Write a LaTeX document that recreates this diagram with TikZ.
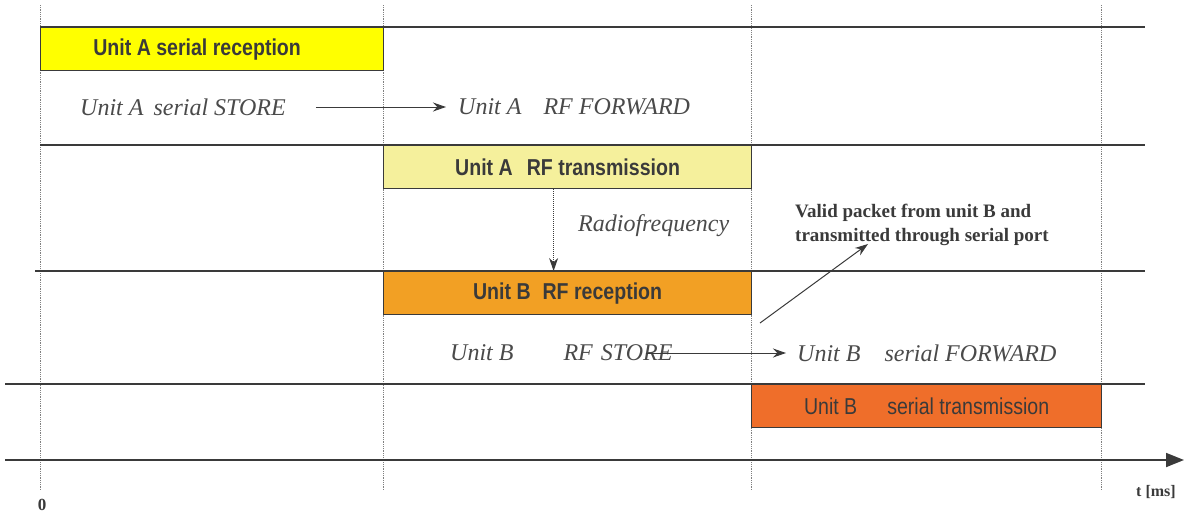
\documentclass[tikz,border=0pt]{standalone}
\usepackage{fontspec}
\setmainfont{Liberation Serif}
\newfontfamily\boxfont[FakeStretch=0.85]{Liberation Sans}
\usetikzlibrary{arrows.meta}
\definecolor{lineg}{HTML}{3A3A3A}
\definecolor{txtg}{HTML}{4A4A4A}
\definecolor{cA}{HTML}{FFFF00}
\definecolor{cB}{HTML}{F5F09C}
\definecolor{cC}{HTML}{F2A024}
\definecolor{cD}{HTML}{EF6E2A}
\tikzset{
  lane/.style={draw=lineg, line width=1.6pt},
  tick/.style={draw=gray, densely dotted, line width=0.8pt},
  phase/.style={draw=lineg, line width=1.2pt, minimum height=43pt, inner sep=0pt,
     font=\boxfont\bfseries\fontsize{23}{26}\selectfont, text=lineg},
  note/.style={font=\itshape\fontsize{24}{27}\selectfont, text=txtg, inner sep=0pt, anchor=west},
  flow/.style={-{Stealth[length=13pt,width=9pt]}, draw=lineg, line width=1pt},
}
\begin{document}
\begin{tikzpicture}[x=1pt,y=-1pt]
\useasboundingbox (0,0) rectangle (1185,515);
% vertical dotted time marks
\foreach \xx in {40,383,751,1101} \draw[tick] (\xx,5) -- (\xx,490);
% lanes
\draw[lane] (40,27) -- (1145,27);
\draw[lane] (40,145) -- (1145,145);
\draw[lane] (35,271) -- (1145,271);
\draw[lane] (5,384) -- (1145,384);
\draw[draw=lineg, line width=1.8pt, -{Triangle[length=18pt,width=14pt]}] (5,460) -- (1184,460);
% phase boxes
\node[phase, fill=cA, minimum width=343pt, anchor=north west] (rxA) at (40,27) {Unit A serial reception\hspace*{30pt}};
\node[phase, fill=cB, minimum width=368pt, anchor=north west] (txA) at (383,145) {Unit A\hspace{14pt}RF transmission};
\node[phase, fill=cC, minimum width=368pt, anchor=north west] (rxB) at (383,271) {Unit B\hspace{12pt}RF reception};
\node[phase, fill=cD, minimum width=350pt, anchor=north west, font=\boxfont\fontsize{23}{26}\selectfont] (txB) at (751,384) {Unit B\hspace{30pt}serial transmission};
% notes
\node[note] (storeA) at (80,107) {Unit A\hspace{10pt}serial STORE};
\node[note] (fwdA) at (458,107) {Unit A\hspace{22pt}RF FORWARD};
\node[note] (radio) at (578,226) {Radiofrequency};
\node[note] (storeB) at (450,353) {Unit B\hspace{50pt}RF\hspace{8pt}STORE};
\node[note] (fwdB) at (797,353) {Unit B\hspace{24pt}serial FORWARD};
\node[font=\bfseries\fontsize{19}{24}\selectfont, text=lineg, align=left, anchor=west, inner sep=0pt] (valid) at (795,225) {Valid packet from unit B and\\transmitted through serial port};
\node[font=\bfseries\fontsize{17}{20}\selectfont, text=lineg, inner sep=0pt] (zero) at (42,505) {0};
\node[font=\bfseries\fontsize{16}{20}\selectfont, text=lineg, inner sep=0pt] (tms) at (1156,492) {t [ms]};
% connectors
\draw[flow] ([xshift=30pt]storeA.east) -- ([xshift=-12pt]fwdA.west);
\draw[flow, densely dotted] ([xshift=-14pt]txA.south) -- ([xshift=-14pt]rxB.north);
\draw[flow] ([xshift=-27pt]storeB.east) -- ([xshift=-11pt]fwdB.west);
\coordinate (vstart) at (760,323);
\draw[flow] (vstart) -- ([xshift=73pt,yshift=2pt]valid.south west);
\end{tikzpicture}
\end{document}
